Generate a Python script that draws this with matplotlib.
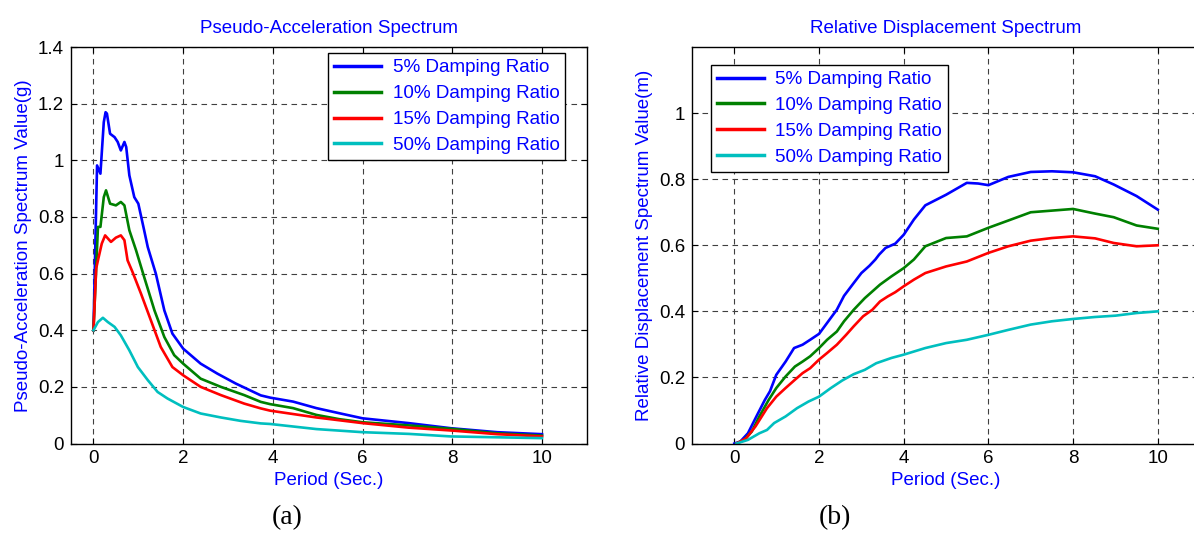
import matplotlib
matplotlib.use("Agg")
import matplotlib.pyplot as plt

plt.rcParams["font.family"] = ["Liberation Sans", "DejaVu Sans"]

# ---- data: pseudo-acceleration spectrum (g) ----
acc_5_t = [0, 0.08, 0.155, 0.23, 0.27, 0.3, 0.37, 0.47, 0.54, 0.61, 0.69, 0.73, 0.8, 0.91, 1.0,
           1.13, 1.21, 1.39, 1.58, 1.76, 2.0, 2.39, 2.76, 3.17, 3.73, 3.94, 4.45, 4.97, 5.48,
           6.0, 7.03, 7.97, 9.0, 10.0]
acc_5_v = [0.40, 0.982, 0.953, 1.135, 1.17, 1.165, 1.094, 1.082, 1.065, 1.035, 1.065, 1.047, 0.947,
           0.87, 0.847, 0.753, 0.694, 0.60, 0.47, 0.388, 0.335, 0.282, 0.247, 0.212, 0.17, 0.162,
           0.148, 0.125, 0.107, 0.089, 0.072, 0.054, 0.04, 0.033]

acc_10_t = [0, 0.1, 0.155, 0.23, 0.28, 0.37, 0.5, 0.61, 0.69, 0.8, 0.95, 1.13, 1.36, 1.58, 1.8, 2.0,
            2.39, 2.84, 3.36, 3.73, 3.94, 4.45, 4.97, 5.48, 6.0, 7.03, 7.97, 9.0, 10.0]
acc_10_v = [0.40, 0.765, 0.765, 0.87, 0.894, 0.847, 0.841, 0.853, 0.841, 0.753, 0.682, 0.588, 0.47,
            0.376, 0.312, 0.282, 0.229, 0.20, 0.171, 0.147, 0.139, 0.125, 0.101, 0.086, 0.075,
            0.064, 0.052, 0.036, 0.028]

acc_15_t = [0, 0.06, 0.1, 0.185, 0.26, 0.39, 0.5, 0.61, 0.69, 0.76, 0.87, 1.06, 1.28, 1.5, 1.76, 2.0,
            2.39, 2.84, 3.36, 3.73, 3.94, 4.97, 6.0, 7.03, 7.97, 9.0, 10.0]
acc_15_v = [0.40, 0.618, 0.647, 0.706, 0.735, 0.712, 0.727, 0.735, 0.718, 0.647, 0.606, 0.529, 0.435,
            0.341, 0.27, 0.241, 0.20, 0.171, 0.141, 0.124, 0.116, 0.092, 0.072, 0.056, 0.046,
            0.033, 0.025]

acc_50_t = [0, 0.1, 0.21, 0.32, 0.47, 0.61, 0.8, 0.99, 1.21, 1.43, 1.65, 2.0, 2.39, 2.84, 3.28, 3.73,
            3.94, 4.97, 6.0, 7.03, 7.97, 9.0, 10.0]
acc_50_v = [0.40, 0.429, 0.444, 0.429, 0.412, 0.382, 0.329, 0.27, 0.224, 0.182, 0.159, 0.129, 0.106,
            0.092, 0.08, 0.071, 0.069, 0.051, 0.04, 0.034, 0.025, 0.022, 0.019]

# ---- data: relative displacement spectrum (m) ----
dis_5_t = [0, 0.14, 0.32, 0.54, 0.72, 0.84, 0.99, 1.21, 1.41, 1.61, 1.79, 2.0, 2.19, 2.42, 2.59, 2.82,
           3.0, 3.19, 3.33, 3.42, 3.57, 3.8, 4.0, 4.24, 4.51, 5.0, 5.49, 5.76, 6.0, 6.47, 7.0, 7.5,
           8.0, 8.52, 8.96, 9.5, 10.0]
dis_5_v = [0, 0.006, 0.031, 0.087, 0.132, 0.158, 0.208, 0.248, 0.289, 0.299, 0.314, 0.332, 0.365,
           0.405, 0.447, 0.486, 0.516, 0.538, 0.557, 0.572, 0.592, 0.605, 0.632, 0.678, 0.721,
           0.753, 0.789, 0.787, 0.782, 0.807, 0.822, 0.824, 0.821, 0.809, 0.784, 0.749, 0.708]

dis_10_t = [0.05, 0.23, 0.41, 0.59, 0.81, 0.99, 1.21, 1.43, 1.61, 1.79, 2.0, 2.19, 2.42, 2.59, 2.82,
            3.08, 3.44, 3.71, 4.0, 4.24, 4.51, 5.0, 5.49, 6.0, 6.47, 7.0, 8.0, 8.52, 8.96, 9.5, 10.0]
dis_10_v = [0, 0.011, 0.036, 0.082, 0.132, 0.168, 0.203, 0.233, 0.248, 0.264, 0.289, 0.314, 0.339,
            0.37, 0.405, 0.44, 0.481, 0.506, 0.531, 0.557, 0.597, 0.622, 0.627, 0.653, 0.675, 0.70,
            0.71, 0.696, 0.685, 0.66, 0.65]

dis_15_t = [0.05, 0.28, 0.5, 0.77, 0.99, 1.21, 1.43, 1.61, 1.79, 2.0, 2.19, 2.42, 2.64, 2.82, 3.04,
            3.26, 3.44, 3.62, 3.8, 4.0, 4.24, 4.51, 5.0, 5.49, 6.0, 6.47, 7.0, 7.5, 8.0, 8.52,
            8.96, 9.5, 10.0]
dis_15_v = [0, 0.016, 0.052, 0.107, 0.142, 0.168, 0.193, 0.213, 0.228, 0.254, 0.274, 0.299, 0.329,
            0.355, 0.385, 0.405, 0.43, 0.445, 0.458, 0.476, 0.496, 0.516, 0.536, 0.551, 0.577,
            0.597, 0.614, 0.622, 0.627, 0.621, 0.607, 0.597, 0.60]

dis_50_t = [0.05, 0.32, 0.59, 0.77, 0.94, 1.21, 1.48, 1.75, 2.0, 2.28, 2.55, 2.82, 3.08, 3.35, 3.71,
            4.0, 4.51, 5.0, 5.49, 6.0, 6.47, 7.0, 7.5, 8.0, 8.52, 9.0, 9.5, 10.0]
dis_50_v = [0, 0.011, 0.031, 0.041, 0.062, 0.082, 0.107, 0.127, 0.142, 0.168, 0.191, 0.21, 0.223,
            0.243, 0.259, 0.269, 0.289, 0.304, 0.314, 0.329, 0.344, 0.36, 0.37, 0.377, 0.383,
            0.387, 0.395, 0.40]

labels = ["5% Damping Ratio", "10% Damping Ratio", "15% Damping Ratio", "50% Damping Ratio"]
colors = ["#0000ff", "#008000", "#ff0000", "#00bfbf"]

TXT = "#0000ff"
FS = 13.5


def style_axes(ax, xlim, ylim, yticks):
    ax.set_xlim(*xlim)
    ax.set_ylim(*ylim)
    ax.set_xticks([0, 2, 4, 6, 8, 10])
    ax.set_yticks(yticks)
    ax.set_yticklabels([f"{v:g}" for v in yticks])
    ax.tick_params(direction="in", top=True, right=True, length=4, labelsize=FS, width=0.8, pad=5)
    ax.grid(True, color="0.25", linestyle=(0, (5, 4)), linewidth=0.8)
    for s in ax.spines.values():
        s.set_linewidth(1.0)


def add_legend(ax, anchor):
    leg = ax.legend(loc="upper left", bbox_to_anchor=anchor, fontsize=13.6, frameon=True,
                    fancybox=False, edgecolor="black", framealpha=1, handlelength=2.5,
                    handletextpad=0.6, labelspacing=0.46, borderpad=0.32, borderaxespad=0)
    leg.get_frame().set_linewidth(1.0)
    for txt in leg.get_texts():
        txt.set_color(TXT)
    for ln in leg.get_lines():
        ln.set_linewidth(2.5)
    return leg


fig = plt.figure(figsize=(11.94, 5.35), dpi=100)

# (a) pseudo-acceleration
ax1 = fig.add_axes([0.0595, 0.171, 0.432, 0.741])
for t, v, c, lab in zip([acc_5_t, acc_10_t, acc_15_t, acc_50_t],
                        [acc_5_v, acc_10_v, acc_15_v, acc_50_v], colors, labels):
    ax1.plot(t, v, color=c, lw=1.9, label=lab)
style_axes(ax1, (-0.5, 11), (0, 1.4), [0, 0.2, 0.4, 0.6, 0.8, 1.0, 1.2, 1.4])
ax1.set_title("Pseudo-Acceleration Spectrum", color=TXT, fontsize=FS, pad=10)
ax1.set_xlabel("Period (Sec.)", color=TXT, fontsize=FS, labelpad=3)
ax1.set_ylabel("Pseudo-Acceleration Spectrum Value(g)", color=TXT, fontsize=FS, labelpad=4)
add_legend(ax1, (0.498, 0.985))

# (b) relative displacement
ax2 = fig.add_axes([0.5796, 0.171, 0.4255, 0.741])
for t, v, c, lab in zip([dis_5_t, dis_10_t, dis_15_t, dis_50_t],
                        [dis_5_v, dis_10_v, dis_15_v, dis_50_v], colors, labels):
    ax2.plot(t, v, color=c, lw=1.9, label=lab)
style_axes(ax2, (-1, 11), (0, 1.2), [0, 0.2, 0.4, 0.6, 0.8, 1.0])
ax2.set_title("Relative Displacement Spectrum", color=TXT, fontsize=FS, pad=10)
ax2.set_xlabel("Period (Sec.)", color=TXT, fontsize=FS, labelpad=3)
ax2.set_ylabel("Relative Displacement Spectrum Value(m)", color=TXT, fontsize=FS, labelpad=4)
add_legend(ax2, (0.037, 0.955))

# sub-figure captions
fig.text(287 / 1194, 1 - 518 / 535, "(a)", ha="center", va="center", fontsize=20,
         family=["Liberation Serif", "DejaVu Serif"])
fig.text(835 / 1194, 1 - 518 / 535, "(b)", ha="center", va="center", fontsize=20,
         family=["Liberation Serif", "DejaVu Serif"])

fig.savefig("out.png", dpi=100)
